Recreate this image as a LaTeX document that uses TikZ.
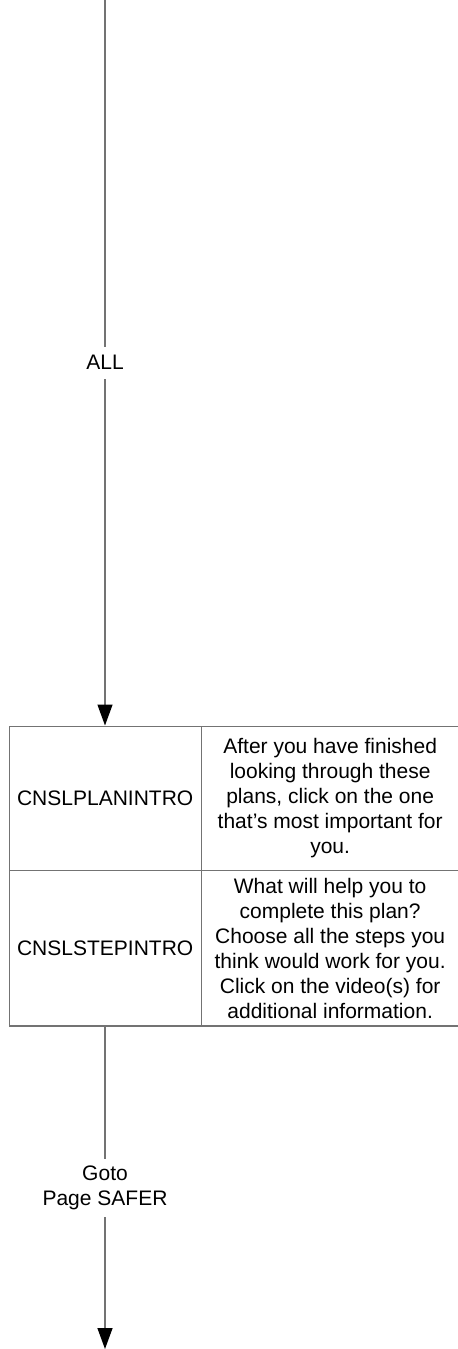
\documentclass[tikz,border=0pt]{standalone}
\usepackage{fontspec}
\setmainfont{Liberation Sans}
\usetikzlibrary{arrows.meta}
\begin{document}
\begin{tikzpicture}[x=0.75pt,y=-0.75pt,
  font=\fontsize{15.75}{18.75}\selectfont,
  cell/.style={draw=black!55, line width=1pt, inner sep=0pt, align=center, anchor=north west},
  flow/.style={draw=black!55, line width=1pt, -{Triangle[length=15.75pt,width=11.25pt,black]}},
  plain/.style={draw=black!55, line width=1pt},
  edgelabel/.style={fill=white, inner sep=0pt, align=center}]
\useasboundingbox (0,0) rectangle (457,1349);
% table cells
\node[cell, minimum width=144pt, minimum height=108.4pt] (plan) at (8.5,725.5) {CNSLPLANINTRO};
\node[cell, minimum width=193.5pt, minimum height=108.4pt] (plantext) at (200.5,725.5)
  {After you have finished\\looking through these\\plans, click on the one\\that’s most important for\\you.};
\node[cell, minimum width=144pt, minimum height=116.6pt] (step) at (8.5,870) {CNSLSTEPINTRO};
\node[cell, minimum width=193.5pt, minimum height=116.6pt] (steptext) at (200.5,870)
  {What will help you to\\complete this plan?\\Choose all the steps you\\think would work for you.\\Click on the video(s) for\\additional information.};
% connector ends
\coordinate (start) at (105,0);
\coordinate (finish) at (105,1349);
% connectors
\draw[flow] (start) -- (start |- plan.north)
  node[edgelabel, midway, minimum height=24pt] {ALL};
\draw[flow] (step.south -| start) -- (finish)
  node[edgelabel, midway, minimum height=43.5pt] {Goto\\Page SAFER};
\end{tikzpicture}
\end{document}
